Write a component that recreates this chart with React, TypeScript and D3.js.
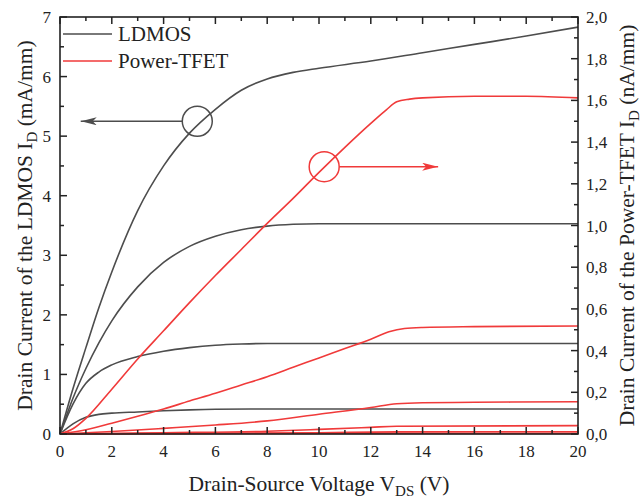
import * as d3 from "d3";

const W = 642;
const H = 498;
const M = { top: 17, right: 64, bottom: 64, left: 60 };

// LDMOS output curves, V_DS (V) vs I_D (mA/mm)
const ldmos1 = [[0, 0], [0.5, 0.76], [1, 1.45], [1.5, 2.12], [2, 2.72], [3, 3.75], [4, 4.5], [5, 5.05], [6, 5.45], [7, 5.77], [8, 5.96], [9, 6.07], [10, 6.14], [12, 6.26], [14, 6.4], [16, 6.54], [18, 6.68], [20, 6.83]];
const ldmos2 = [[0, 0], [0.5, 0.6], [1, 1.1], [1.5, 1.53], [2, 1.9], [3, 2.47], [4, 2.88], [5, 3.15], [6, 3.32], [7, 3.43], [8, 3.49], [9, 3.52], [10, 3.53], [20, 3.53]];
const ldmos3 = [[0, 0], [0.5, 0.5], [1, 0.85], [1.5, 1.04], [2, 1.16], [3, 1.3], [4, 1.39], [5, 1.45], [6, 1.49], [7, 1.51], [8, 1.52], [20, 1.52]];
const ldmos4 = [[0, 0], [0.5, 0.17], [1, 0.28], [1.5, 0.33], [2, 0.35], [3, 0.37], [4, 0.39], [5, 0.405], [6, 0.415], [8, 0.42], [20, 0.42]];

// Power-TFET output curves, V_DS (V) vs I_D (nA/mm)
const tfet1 = [[0, 0], [0.5, 0.025], [1, 0.075], [2, 0.215], [3, 0.36], [4, 0.495], [5, 0.63], [6, 0.76], [7, 0.885], [8, 1.01], [9, 1.13], [10, 1.255], [11, 1.375], [12, 1.49], [12.6, 1.555], [13, 1.593], [13.5, 1.606], [14, 1.612], [16, 1.62], [18, 1.62], [20, 1.612]];
const tfet2 = [[0, 0], [1, 0.02], [2, 0.052], [3, 0.085], [4, 0.12], [5, 0.158], [6, 0.195], [7, 0.235], [8, 0.275], [9, 0.32], [10, 0.365], [11, 0.41], [12, 0.455], [12.7, 0.49], [13.3, 0.506], [14, 0.511], [16, 0.515], [20, 0.518]];
const tfet3 = [[0, 0], [2, 0.012], [4, 0.027], [6, 0.043], [8, 0.063], [10, 0.095], [12, 0.127], [13, 0.145], [14, 0.15], [16, 0.152], [20, 0.155]];
const tfet4 = [[0, 0], [4, 0.006], [8, 0.013], [10, 0.022], [12, 0.032], [13, 0.037], [20, 0.04]];
const tfet5 = [[0, 0], [10, 0.006], [13, 0.01], [20, 0.011]];
const tfet6 = [[0, 0], [13, 0.003], [20, 0.003]];

const xTicks = [0, 2, 4, 6, 8, 10, 12, 14, 16, 18, 20];
const yLeftTicks = [0, 1, 2, 3, 4, 5, 6, 7];
const yRightTicks = [0, 0.2, 0.4, 0.6, 0.8, 1.0, 1.2, 1.4, 1.6, 1.8, 2.0];

const GRAY = "#4d4d4d";
const RED = "#f03a3a";
const FONT = "'Liberation Serif', 'Times New Roman', serif";

export default function App() {
  const x0 = M.left, x1 = W - M.right, y0 = H - M.bottom, y1 = M.top;
  const x = d3.scaleLinear().domain([0, 20]).range([x0, x1]);
  const yL = d3.scaleLinear().domain([0, 7]).range([y0, y1]);
  const yR = d3.scaleLinear().domain([0, 2]).range([y0, y1]);

  const lineL = d3.line<number[]>().x(d => x(d[0])).y(d => yL(d[1])).curve(d3.curveMonotoneX);
  const lineR = d3.line<number[]>().x(d => x(d[0])).y(d => yR(d[1])).curve(d3.curveMonotoneX);

  const xMinor = d3.range(0, 21, 1);
  const yLMinor = d3.range(0, 7.01, 0.5);
  const yRMinor = d3.range(0, 2.01, 0.1);

  // annotation positions in data units
  const cL = { v: 5.3, i: 5.25 };
  const cR = { v: 10.2, i: 1.282 };
  const r = 15;

  return (
    <svg width={W} height={H} style={{ position: "absolute", left: 0, top: 0, background: "white" }} fontFamily={FONT}>
      <defs>
        <marker id="arrG" viewBox="0 0 16 8" refX="16" refY="4" markerWidth="16" markerHeight="8" markerUnits="userSpaceOnUse" orient="auto">
          <path d="M0,0 L16,4 L0,8 L4,4 Z" fill={GRAY} />
        </marker>
        <marker id="arrR" viewBox="0 0 16 8" refX="16" refY="4" markerWidth="16" markerHeight="8" markerUnits="userSpaceOnUse" orient="auto">
          <path d="M0,0 L16,4 L0,8 L4,4 Z" fill={RED} />
        </marker>
      </defs>

      {/* curves */}
      {[ldmos1, ldmos2, ldmos3, ldmos4].map((d, i) => (
        <path key={"l" + i} d={lineL(d) || ""} fill="none" stroke={GRAY} strokeWidth={1.6} />
      ))}
      {[tfet1, tfet2, tfet3, tfet4, tfet5, tfet6].map((d, i) => (
        <path key={"t" + i} d={lineR(d) || ""} fill="none" stroke={RED} strokeWidth={1.6} />
      ))}

      {/* annotations */}
      <circle cx={x(cL.v)} cy={yL(cL.i)} r={r} fill="none" stroke={GRAY} strokeWidth={1.5} />
      <line x1={x(cL.v) - r} y1={yL(cL.i)} x2={x(0.8)} y2={yL(cL.i)} stroke={GRAY} strokeWidth={1.5} markerEnd="url(#arrG)" />
      <circle cx={x(cR.v)} cy={yR(cR.i)} r={r} fill="none" stroke={RED} strokeWidth={1.5} />
      <line x1={x(cR.v) + r} y1={yR(cR.i)} x2={x(14.6)} y2={yR(cR.i)} stroke={RED} strokeWidth={1.5} markerEnd="url(#arrR)" />

      {/* frame */}
      <rect x={x0} y={y1} width={x1 - x0} height={y0 - y1} fill="none" stroke="#222" strokeWidth={1.6} />

      {/* x ticks bottom and top */}
      {xMinor.map(v => {
        const len = v % 2 === 0 ? 7 : 4;
        return (
          <g key={"xt" + v}>
            <line x1={x(v)} x2={x(v)} y1={y0} y2={y0 - len} stroke="#222" strokeWidth={1.5} />
            <line x1={x(v)} x2={x(v)} y1={y1} y2={y1 + len} stroke="#222" strokeWidth={1.5} />
          </g>
        );
      })}
      {xTicks.map(v => (
        <text key={"xl" + v} x={x(v)} y={y0 + 23} textAnchor="middle" fontSize={17} fill="#222">{v}</text>
      ))}

      {/* left ticks */}
      {yLMinor.map(v => {
        const len = Math.abs(v - Math.round(v)) < 1e-6 ? 7 : 4;
        return <line key={"yl" + v} x1={x0} x2={x0 + len} y1={yL(v)} y2={yL(v)} stroke="#222" strokeWidth={1.5} />;
      })}
      {yLeftTicks.map(v => (
        <text key={"yll" + v} x={x0 - 9} y={yL(v) + 6} textAnchor="end" fontSize={17} fill="#222">{v}</text>
      ))}

      {/* right ticks */}
      {yRMinor.map((v, i) => {
        const len = i % 2 === 0 ? 7 : 4;
        return <line key={"yr" + i} x1={x1} x2={x1 - len} y1={yR(v)} y2={yR(v)} stroke="#222" strokeWidth={1.5} />;
      })}
      {yRightTicks.map(v => (
        <text key={"yrl" + v} x={x1 + 8} y={yR(v) + 6} textAnchor="start" fontSize={17} fill="#222">
          {v.toFixed(1).replace(".", ",")}
        </text>
      ))}

      {/* legend */}
      <line x1={63} x2={112} y1={34} y2={34} stroke={GRAY} strokeWidth={1.6} />
      <text x={118} y={41} fontSize={21} fill="#222">LDMOS</text>
      <line x1={63} x2={112} y1={61} y2={61} stroke={RED} strokeWidth={1.6} />
      <text x={118} y={68} fontSize={21} fill="#222">Power-TFET</text>

      {/* axis titles */}
      <text x={(x0 + x1) / 2} y={491} textAnchor="middle" fontSize={21.5} fill="#222">
        Drain-Source Voltage V<tspan fontSize={15} dy={5}>DS</tspan><tspan dy={-5}> (V)</tspan>
      </text>
      <text transform={`translate(32,${(y0 + y1) / 2}) rotate(-90)`} textAnchor="middle" fontSize={21.5} fill="#222">
        Drain Current of the LDMOS I<tspan fontSize={15} dy={5}>D</tspan><tspan dy={-5}> (mA/mm)</tspan>
      </text>
      <text transform={`translate(634,${(y0 + y1) / 2}) rotate(-90)`} textAnchor="middle" fontSize={21.5} fill="#222">
        Drain Current of the Power-TFET I<tspan fontSize={15} dy={5}>D</tspan><tspan dy={-5}> (nA/mm)</tspan>
      </text>
    </svg>
  );
}
